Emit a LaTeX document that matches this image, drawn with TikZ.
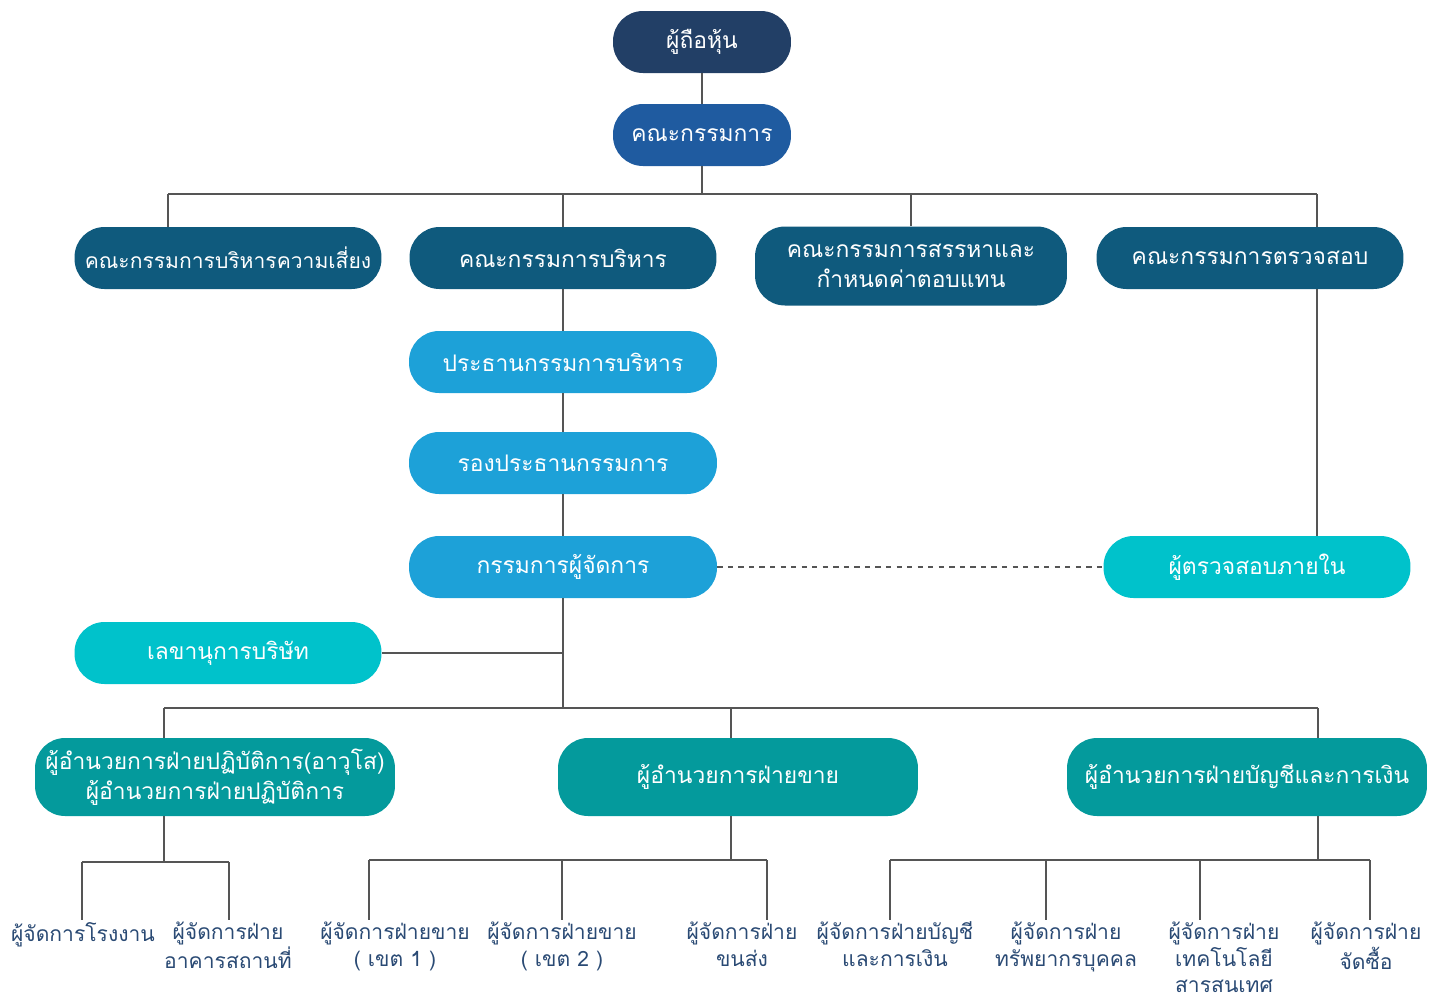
\documentclass[tikz,border=0pt]{standalone}
\usepackage{fontspec}
\setmainfont[Script=Thai]{Loma}

\definecolor{navy}{HTML}{223F66}
\definecolor{boardblue}{HTML}{1F5BA0}
\definecolor{comblue}{HTML}{0F5A7D}
\definecolor{execblue}{HTML}{1DA1D8}
\definecolor{cyanbox}{HTML}{00C2CB}
\definecolor{tealbox}{HTML}{049A9C}
\definecolor{mgrtext}{HTML}{2A4A74}
\definecolor{linegray}{HTML}{555555}

\tikzset{
  pill/.style={rectangle, rounded corners=0.6cm, text=white, align=center,
    inner xsep=0pt, inner ysep=2pt, minimum height=1.24cm, font=\fontsize{13}{17}\selectfont},
  mgr/.style={anchor=north, align=center, text=mgrtext, inner sep=1pt,
    font=\fontsize{12}{15}\selectfont},
  wire/.style={draw=linegray, line width=1.1pt}
}

\begin{document}
\begin{tikzpicture}[x=0.02cm, y=-0.02cm]
    \useasboundingbox (0,0) rectangle (1437,1002);

    % top
    \node[pill, fill=navy, minimum width=3.56cm] (holders) at (702,42) {ผู้ถือหุ้น};
    \node[pill, fill=boardblue, minimum width=3.56cm] (board) at (702,135) {คณะกรรมการ};

    % committees
    \node[pill, fill=comblue, minimum width=6.14cm, font=\fontsize{12}{16}\selectfont] (risk) at (228,258) {คณะกรรมการบริหารความเสี่ยง};
    \node[pill, fill=comblue, minimum width=6.14cm] (exec) at (563,258) {คณะกรรมการบริหาร};
    \node[pill, fill=comblue, minimum width=6.24cm, minimum height=1.58cm] (nomination) at (911,266) {คณะกรรมการสรรหาและ\\กำหนดค่าตอบแทน};
    \node[pill, fill=comblue, minimum width=6.14cm] (audit) at (1250,258) {คณะกรรมการตรวจสอบ};

    % executives
    \node[pill, fill=execblue, minimum width=6.16cm] (chair) at (563,362) {ประธานกรรมการบริหาร};
    \node[pill, fill=execblue, minimum width=6.16cm] (vice) at (563,463) {รองประธานกรรมการ};
    \node[pill, fill=execblue, minimum width=6.16cm] (md) at (563,567) {กรรมการผู้จัดการ};
    \node[pill, fill=cyanbox, minimum width=6.14cm] (inaudit) at (1257,567) {ผู้ตรวจสอบภายใน};
    \node[pill, fill=cyanbox, minimum width=6.14cm] (secretary) at (228,653) {เลขานุการบริษัท};

    % directors
    \node[pill, fill=tealbox, minimum width=7.2cm, minimum height=1.56cm] (ops) at (215,777) {ผู้อำนวยการฝ่ายปฏิบัติการ(อาวุโส)\\ผู้อำนวยการฝ่ายปฏิบัติการ};
    \node[pill, fill=tealbox, minimum width=7.2cm, minimum height=1.56cm] (sales) at (738,777) {ผู้อำนวยการฝ่ายขาย};
    \node[pill, fill=tealbox, minimum width=7.2cm, minimum height=1.56cm] (acc) at (1247,777) {ผู้อำนวยการฝ่ายบัญชีและการเงิน};

    % managers
    \node[mgr] (factory) at (83,920) {ผู้จัดการโรงงาน};
    \node[mgr] (building) at (228,920) {ผู้จัดการฝ่าย\\อาคารสถานที่};
    \node[mgr] (zone1) at (395,920) {ผู้จัดการฝ่ายขาย\\( เขต 1 )};
    \node[mgr] (zone2) at (562,920) {ผู้จัดการฝ่ายขาย\\( เขต 2 )};
    \node[mgr] (transport) at (742,920) {ผู้จัดการฝ่าย\\ขนส่ง};
    \node[mgr] (finance) at (895,920) {ผู้จัดการฝ่ายบัญชี\\และการเงิน};
    \node[mgr] (hr) at (1066,920) {ผู้จัดการฝ่าย\\ทรัพยากรบุคคล};
    \node[mgr] (it) at (1224,920) {ผู้จัดการฝ่าย\\เทคโนโลยี\\สารสนเทศ};
    \node[mgr] (purchase) at (1366,920) {ผู้จัดการฝ่าย\\จัดซื้อ};

    % bus joints
    \coordinate (b0) at (702,194);
    \coordinate (b1) at (168,194);
    \coordinate (b4) at (1317,194);
    \coordinate (c0) at (563,708);
    \coordinate (c1) at (164,708);
    \coordinate (c2) at (731,708);
    \coordinate (c3) at (1318,708);
    \coordinate (d0) at (164,862);
    \coordinate (d1) at (82,862);
    \coordinate (d2) at (229,862);
    \coordinate (e0) at (731,860);
    \coordinate (e1) at (369,860);
    \coordinate (e2) at (562,860);
    \coordinate (e3) at (767,860);
    \coordinate (f0) at (1318,860);
    \coordinate (f1) at (890,860);
    \coordinate (f2) at (1046,860);
    \coordinate (f3) at (1200,860);
    \coordinate (f4) at (1370,860);

    \begin{scope}[every path/.style={wire}]
        \draw (holders) -- (board);
        \draw (board) -- (b0);
        \draw (b1) -- (b4);
        \draw (b1) -- (b1 |- risk.north);
        \draw (exec.north) -- (exec.north |- b0);
        \draw (nomination.north) -- (nomination.north |- b0);
        \draw (b4) -- (b4 |- audit.north);

        \draw (exec) -- (chair);
        \draw (chair) -- (vice);
        \draw (vice) -- (md);
        \draw (b4 |- audit.south) -- (b4 |- inaudit.north);
        \draw[dashed] (md) -- (inaudit);
        \draw (secretary) -- (secretary -| c0);

        \draw (md) -- (c0);
        \draw (c1) -- (c3);
        \draw (c1) -- (c1 |- ops.north);
        \draw (c2) -- (c2 |- sales.north);
        \draw (c3) -- (c3 |- acc.north);

        \draw (d0 |- ops.south) -- (d0);
        \draw (d1) -- (d2);
        \draw (d1) -- (d1 |- factory.north);
        \draw (d2) -- (d2 |- building.north);

        \draw (e0 |- sales.south) -- (e0);
        \draw (e1) -- (e3);
        \draw (e1) -- (e1 |- zone1.north);
        \draw (e2) -- (e2 |- zone2.north);
        \draw (e3) -- (e3 |- transport.north);

        \draw (f0 |- acc.south) -- (f0);
        \draw (f1) -- (f4);
        \draw (f1) -- (f1 |- finance.north);
        \draw (f2) -- (f2 |- hr.north);
        \draw (f3) -- (f3 |- it.north);
        \draw (f4) -- (f4 |- purchase.north);
    \end{scope}

\end{tikzpicture}
\end{document}
